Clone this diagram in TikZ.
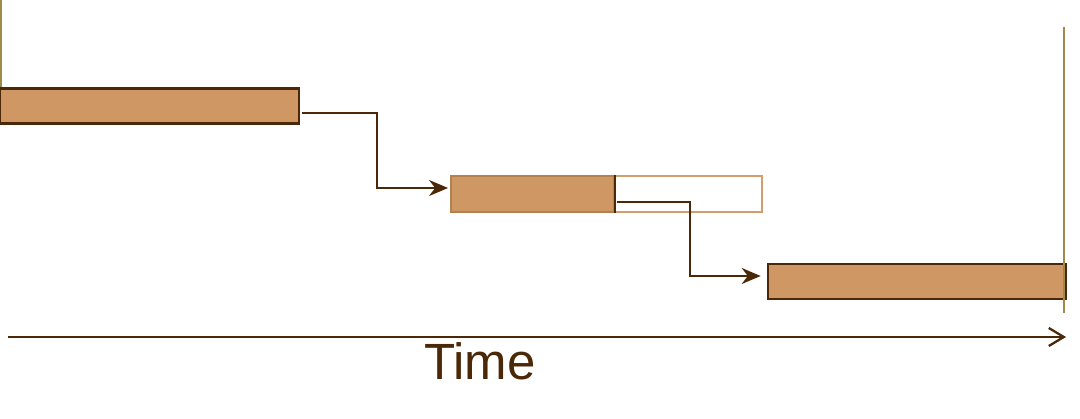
\documentclass[tikz,border=0pt]{standalone}
\usepackage{fontspec}
\setmainfont{Liberation Sans}
\usetikzlibrary{arrows.meta,calc}
\definecolor{bartan}{HTML}{CF9763}
\definecolor{barmid}{HTML}{B4814C}
\definecolor{barlight}{HTML}{D39E6C}
\definecolor{bardark}{HTML}{4B2807}
\definecolor{limitgold}{HTML}{A08A48}
\begin{document}
\begin{tikzpicture}[>={Stealth[length=3.8mm,width=3.2mm]},
  bar/.style={draw=bardark,fill=bartan,line width=1.5pt,minimum height=7mm,inner sep=0pt},
  link/.style={->,draw=bardark,line width=1.3pt},
  limit/.style={draw=limitgold,line width=1.5pt}]
\useasboundingbox (0,0) rectangle (21.6,8.38);
% 起点界线
\draw[limit] (0.02,8.38) -- (0.02,5.92);
% 三个任务
\node[bar,minimum width=5.98cm] (task1) at (2.99,6.26) {};
\node[bar,draw=barlight,fill=none,line width=1.1pt,minimum width=6.22cm,minimum height=7.2mm] (slot2) at (12.13,4.5) {};
\node[bar,draw=barmid,line width=1.1pt,minimum width=3.26cm,minimum height=7.2mm] (task2) at (10.65,4.5) {};
\draw[bardark,line width=1.6pt] (task2.north east) -- (task2.south east);
\node[bar,minimum width=5.96cm] (task3) at (18.34,2.75) {};
% 依赖
\coordinate (out1) at ($(task1.east)+(0.04,-0.14)$);
\coordinate (in2) at ($(task2.west)+(-0.04,0.12)$);
\draw[link] (out1) -- ++(1.5,0) |- (in2);
\coordinate (out2) at ($(task2.east)+(0.04,-0.16)$);
\coordinate (in3) at ($(task3.west)+(-0.12,0.11)$);
\draw[link] (out2) -- ++(1.46,0) |- (in3);
% 终点界线
\draw[limit] (21.28,7.84) -- (21.28,2.12);
% 时间轴
\coordinate (t0) at (0.16,1.64);
\coordinate (t1) at (21.32,1.64);
\draw[draw=bardark,line width=1.3pt,-{Straight Barb[length=3mm,width=3.6mm]}] (t0) -- (t1);
\node[text=bardark,font=\fontsize{29}{30}\selectfont,anchor=base] (time) at (9.6,0.78) {Time};
\end{tikzpicture}
\end{document}
